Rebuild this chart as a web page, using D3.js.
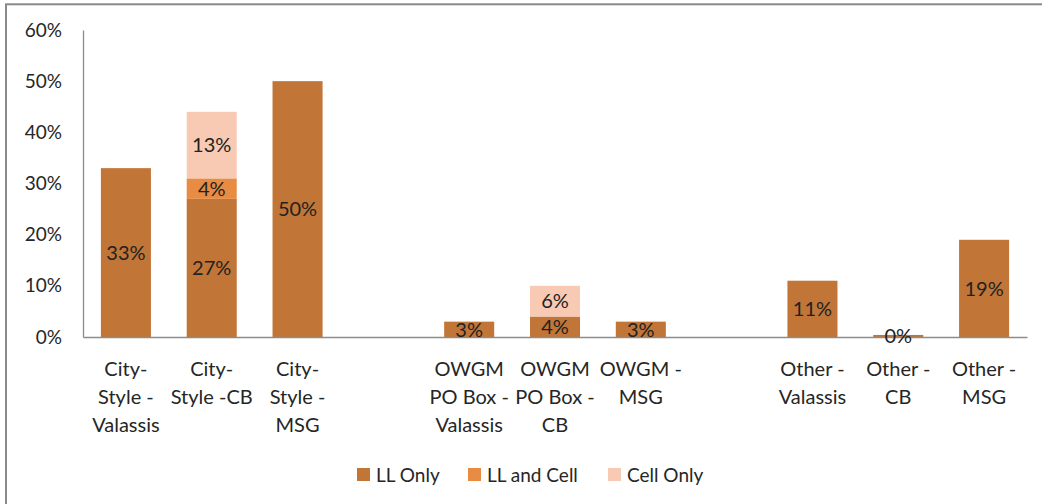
<!DOCTYPE html>
<html><head><meta charset="utf-8">
<script src="https://cdn.jsdelivr.net/npm/d3@7"></script>
<style>html,body{margin:0;padding:0;background:#fff;}svg{display:block;}</style>
</head><body>
<svg id="c" width="1042" height="504"></svg>
<script>
const categories = ["City-\nStyle -\nValassis","City-\nStyle -CB","City-\nStyle -\nMSG","gap1",
  "OWGM\nPO Box -\nValassis","OWGM\nPO Box -\nCB","OWGM -\nMSG","gap2",
  "Other -\nValassis","Other -\nCB","Other -\nMSG"];
const seriesNames = ["LL Only","LL and Cell","Cell Only"];
const llOnly    = [33, 27, 50, 0, 3, 4, 3, 0, 11, 0.4, 19];
const llAndCell = [0, 4, 0, 0, 0, 0, 0, 0, 0, 0, 0];
const cellOnly  = [0, 13, 0, 0, 0, 6, 0, 0, 0, 0, 0];
const showLabel = [[1,1,1,0,1,1,1,0,1,1,1],[0,1,0,0,0,0,0,0,0,0,0],[0,1,0,0,0,1,0,0,0,0,0]];
const yTicks = [0,10,20,30,40,50,60];
const colors = ["#C17537","#E88B43","#F8CAB4"];

const svg = d3.select("#c");
const font = "Lato, 'Open Sans', sans-serif";
svg.append("rect").attr("x",6).attr("y",4.3).attr("width",1100).attr("height",600)
  .attr("fill","none").attr("stroke","#8a8a8a").attr("stroke-width",2);

const x = d3.scaleBand().domain(categories).range([83,1027]).paddingInner(0.417).paddingOuter(0.2085);
const y = d3.scaleLinear().domain([0,60]).range([337,30]);

const rows = categories.map((c,i)=>({cat:c, s0:llOnly[i], s1:llAndCell[i], s2:cellOnly[i], i}));
const stack = d3.stack().keys(["s0","s1","s2"])(rows);

stack.forEach((layer,k)=>{
  svg.append("g").selectAll("rect").data(layer.filter(d=>d[1]-d[0]>0)).join("rect")
    .attr("x",d=>x(d.data.cat)).attr("width",x.bandwidth())
    .attr("y",d=>y(d[1])).attr("height",d=>y(d[0])-y(d[1]))
    .attr("fill",colors[k]);
});

// axes
const yAxis = d3.axisLeft(y).tickValues(yTicks).tickFormat(d=>d+"%").tickSize(0).tickPadding(21);
const gy = svg.append("g").attr("transform","translate(83,0)").call(yAxis);
gy.select(".domain").attr("stroke","#8c8c8c").attr("stroke-width",1.3);
gy.selectAll("text").attr("font-family",font).attr("font-size",19).attr("fill","#262626");

const xAxis = d3.axisBottom(x).tickSize(0).tickFormat("");
const gx = svg.append("g").attr("transform","translate(0,337)").call(xAxis);
gx.select(".domain").attr("stroke","#8c8c8c").attr("stroke-width",1.3);

// x labels
const xl = svg.append("g");
categories.forEach(c=>{
  if(c.startsWith("gap")) return;
  const t = xl.append("text").attr("x",x(c)+x.bandwidth()/2).attr("text-anchor","middle")
    .attr("font-family",font).attr("font-size",20).attr("fill","#262626");
  c.split("\n").forEach((line,j)=>{
    t.append("tspan").attr("x",x(c)+x.bandwidth()/2).attr("y",376+j*28).text(line);
  });
});

// data labels
stack.forEach((layer,k)=>{
  svg.append("g").selectAll("text").data(layer.filter((d,i)=>showLabel[k][i])).join("text")
    .attr("x",d=>x(d.data.cat)+x.bandwidth()/2)
    .attr("y",d=>(y(d[0])+y(d[1]))/2)
    .attr("dy","0.36em").attr("text-anchor","middle")
    .attr("font-family",font).attr("font-size",20).attr("fill","#222")
    .text(d=>Math.round(d[1]-d[0])+"%");
});

// legend
const legendX = [357, 468, 608];
const lg = svg.append("g");
seriesNames.forEach((n,k)=>{
  lg.append("rect").attr("x",legendX[k]).attr("y",468).attr("width",13).attr("height",13).attr("fill",colors[k]);
  lg.append("text").attr("x",legendX[k]+19).attr("y",475).attr("dy","0.36em")
    .attr("font-family",font).attr("font-size",19).attr("fill","#262626").text(n);
});
</script>
</body></html>
